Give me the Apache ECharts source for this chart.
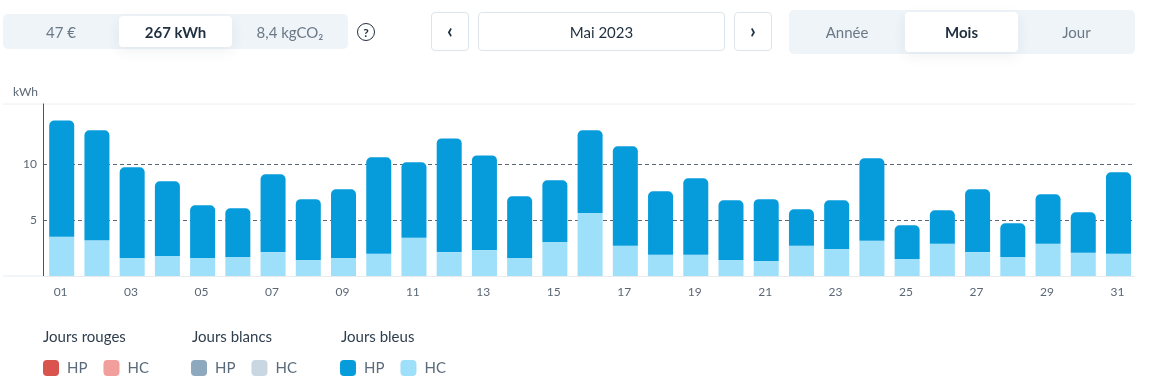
<!DOCTYPE html>
<html>
<head>
<meta charset="utf-8">
<script src="https://cdn.jsdelivr.net/npm/echarts@6/dist/echarts.min.js"></script>
<style>
  html, body { margin: 0; padding: 0; background: #fff; }
  #wrap { position: relative; width: 1152px; height: 390px; overflow: hidden; font-family: Lato, "Noto Sans", sans-serif; }
  #chart { position: absolute; left: 0; top: 0; width: 1152px; height: 390px; }
  .seg { position: absolute; background: #eef4f8; border-radius: 5px; }
  .tab { position: absolute; top: 0; height: 100%; display: flex; align-items: center; justify-content: center; font-size: 15px; color: #6b7886; }
  .tab.sel { background: #fff; color: #1f2f3f; font-weight: 700; border-radius: 4px; box-shadow: 0 4px 14px rgba(40,60,80,0.07); }
  .btn { position: absolute; background: #fff; border: 1px solid #dde4ea; border-radius: 4px; box-sizing: border-box; display: flex; align-items: center; justify-content: center; color: #1f2f3f; font-size: 15px; }
  .chev { font-size: 20px; font-weight: 700; line-height: 1; padding-bottom: 3px; }
  .help { position: absolute; left: 357px; top: 23px; width: 18px; height: 18px; box-sizing: border-box; border: 1.5px solid #1f2f3f; border-radius: 50%; display: flex; align-items: center; justify-content: center; font-size: 12px; font-weight: 700; color: #1f2f3f; }
</style>
</head>
<body>
<div id="wrap">
  <div id="chart"></div>
  <div class="seg" style="left:3px; top:14px; width:345px; height:35px;">
    <div class="tab" style="left:0; width:116px;">47 €</div>
    <div class="tab sel" style="left:116px; top:2px; height:31px; width:113px;">267 kWh</div>
    <div class="tab" style="left:229px; width:116px;">8,4 kgCO₂</div>
  </div>
  <div class="help">?</div>
  <div class="btn chev" style="left:431px; top:12px; width:38px; height:39px;">‹</div>
  <div class="btn" style="left:478px; top:12px; width:247px; height:39px;">Mai 2023</div>
  <div class="btn chev" style="left:734px; top:12px; width:38px; height:39px;">›</div>
  <div class="seg" style="left:789px; top:10px; width:346px; height:44px;">
    <div class="tab" style="left:0; width:116px;">Année</div>
    <div class="tab sel" style="left:116px; top:2px; height:40px; width:113px;">Mois</div>
    <div class="tab" style="left:229px; width:117px;">Jour</div>
  </div>
</div>
<script>
const days = ['01','02','03','04','05','06','07','08','09','10','11','12','13','14','15','16','17','18','19','20','21','22','23','24','25','26','27','28','29','30','31'];
const bleusHC = [3.51,3.21,1.61,1.79,1.61,1.70,2.14,1.43,1.61,1.99,3.42,2.14,2.32,1.61,3.04,5.65,2.71,1.90,1.90,1.43,1.34,2.71,2.41,3.15,1.52,2.89,2.14,1.70,2.89,2.08,1.99];
const bleusHP = [10.42,9.83,8.12,6.69,4.73,4.37,6.97,5.45,6.16,8.64,6.76,10.18,8.48,5.53,5.53,7.39,8.90,5.69,6.85,5.36,5.54,3.27,4.38,7.39,3.03,3.00,5.63,3.03,4.43,3.63,7.30];
const rougesHP = [];
const rougesHC = [];
const blancsHP = [];
const blancsHC = [];
const yTickLabels = [5, 10];

const colors = {
  rougeHP: '#d9534f', rougeHC: '#f29e9c',
  blancHP: '#8ea8bd', blancHC: '#c9d7e2',
  bleuHP: '#069cdc', bleuHC: '#9edffa'
};

const grid = { left: 43, right: 17, top: 104, bottom: 114 };
const labelColor = '#5b6775';
const fontFamily = 'Lato, "Noto Sans", sans-serif';

const chart = echarts.init(document.getElementById('chart'), null, { renderer: 'canvas' });

function legendFor(left, names) {
  return {
    left: left, top: 360, orient: 'horizontal', padding: 0,
    itemWidth: 16, itemHeight: 16, itemGap: 16,
    icon: 'roundRect',
    data: names,
    formatter: n => n.split(' ')[0],
    textStyle: { color: '#5b6b7b', fontSize: 15, fontFamily: fontFamily, padding: [0, 0, 0, 3] },
    selectedMode: false
  };
}

const option = {
  animation: false,
  grid: grid,
  xAxis: {
    type: 'category',
    data: days,
    axisLine: { show: true, lineStyle: { color: '#e6ecf0', width: 1 } },
    axisTick: { show: false },
    axisLabel: { interval: 1, color: labelColor, fontSize: 12, fontFamily: fontFamily, margin: 10 }
  },
  yAxis: {
    type: 'value',
    min: 0, max: 15.4, interval: 5,
    name: 'kWh',
    nameLocation: 'end',
    nameGap: 6,
    nameTextStyle: { color: labelColor, fontSize: 12, fontFamily: fontFamily, align: 'right', padding: [0, 5, 0, 0] },
    axisLine: { show: true, lineStyle: { color: '#4a5560', width: 1 } },
    axisTick: { show: false },
    axisLabel: {
      color: labelColor, fontSize: 12, fontFamily: fontFamily, margin: 6,
      formatter: v => (yTickLabels.indexOf(v) >= 0 ? String(v) : '')
    },
    splitLine: {
      show: true,
      lineStyle: { type: [4, 3], color: ['rgba(0,0,0,0)', '#5d6670', '#5d6670', 'rgba(0,0,0,0)', 'rgba(0,0,0,0)'], width: 1 }
    }
  },
  legend: [
    legendFor(43, ['HP rouges', 'HC rouges']),
    legendFor(191, ['HP blancs', 'HC blancs']),
    legendFor(340, ['HP bleus', 'HC bleus'])
  ],
  graphic: [
    { type: 'line', silent: true, z: -1, shape: { x1: 3, y1: grid.top, x2: 1152 - grid.right, y2: grid.top }, style: { stroke: '#eaeff3', lineWidth: 1 } },
    { type: 'line', silent: true, z: -1, shape: { x1: 3, y1: 390 - grid.bottom, x2: 43, y2: 390 - grid.bottom }, style: { stroke: '#e6ecf0', lineWidth: 1 } },
    { type: 'text', left: 43, top: 330, style: { text: 'Jours rouges', fill: '#2f3e4e', font: '15px ' + fontFamily } },
    { type: 'text', left: 192, top: 330, style: { text: 'Jours blancs', fill: '#2f3e4e', font: '15px ' + fontFamily } },
    { type: 'text', left: 341, top: 330, style: { text: 'Jours bleus', fill: '#2f3e4e', font: '15px ' + fontFamily } }
  ],
  series: [
    { name: 'HP rouges', type: 'bar', stack: 'r', data: rougesHP, itemStyle: { color: colors.rougeHP } },
    { name: 'HC rouges', type: 'bar', stack: 'r', data: rougesHC, itemStyle: { color: colors.rougeHC } },
    { name: 'HP blancs', type: 'bar', stack: 'w', data: blancsHP, itemStyle: { color: colors.blancHP } },
    { name: 'HC blancs', type: 'bar', stack: 'w', data: blancsHC, itemStyle: { color: colors.blancHC } },
    { name: 'HC bleus', type: 'bar', stack: 'b', barWidth: 25, data: bleusHC, itemStyle: { color: colors.bleuHC } },
    { name: 'HP bleus', type: 'bar', stack: 'b', barWidth: 25, data: bleusHP, itemStyle: { color: colors.bleuHP, borderRadius: [5, 5, 0, 0] } }
  ]
};
chart.setOption(option);
</script>
</body>
</html>
